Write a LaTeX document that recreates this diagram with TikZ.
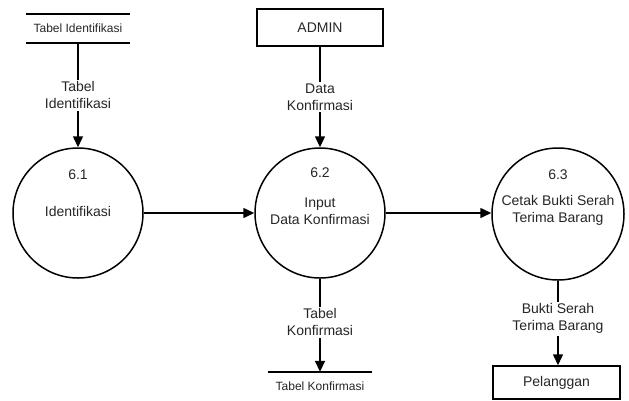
\documentclass[tikz,border=0pt]{standalone}
\usepackage{fontspec}
\setmainfont{Liberation Sans}
\usetikzlibrary{arrows.meta}
\begin{document}
\begin{tikzpicture}[x=1pt,y=-1pt,
  every node/.style={text=black!85},
  txt/.style={font=\fontsize{14}{17}\selectfont, align=center, inner sep=1pt},
  flowlabel/.style={txt, fill=white, inner sep=2pt},
  process/.style={draw, circle, line width=1.5pt, minimum size=130pt, inner sep=0pt},
  entity/.style={draw, line width=1.5pt, rectangle, inner sep=0pt, font=\fontsize{14}{17}\selectfont},
  store/.style={inner sep=0pt, font=\fontsize{12}{14}\selectfont},
  storeline/.style={line width=1.5pt},
  flow/.style={line width=1.5pt, -{Triangle[length=11pt,width=10pt]}}]
\useasboundingbox (0,0) rectangle (629,400);

% external entities
\node[entity, minimum width=126pt, minimum height=37pt] (admin) at (320,27.5) {ADMIN};
\node[entity, minimum width=127pt, minimum height=33pt] (pel) at (556.5,382.5) {Pelanggan};

% data stores
\node[store, minimum width=104pt, minimum height=29pt] (tid) at (78,28.5) {Tabel Identifikasi};
\draw[storeline] (tid.north west) -- (tid.north east);
\draw[storeline] (tid.south west) -- (tid.south east);
\node[store, minimum width=104pt, minimum height=28pt] (tkon) at (320,386) {Tabel Konfirmasi};
\draw[storeline] (tkon.north west) -- (tkon.north east);

% processes
\node[process] (p1) at (78,213) {};
\node[txt] (p1n) at (78,175) {6.1};
\node[txt] (p1t) at (78,211) {Identifikasi};

\node[process] (p2) at (320,213) {};
\node[txt] (p2n) at (320,173) {6.2};
\node[txt] (p2t) at (320,211.5) {Input\\Data Konfirmasi};

\node[process, minimum size=132pt] (p3) at (558,214) {};
\node[txt] (p3n) at (558,175) {6.3};
\node[txt] (p3t) at (558,210.5) {Cetak Bukti Serah\\Terima Barang};

% data flows
\draw[flow] (tid.south) -- node[flowlabel] {Tabel\\Identifikasi} (p1.north);
\draw[flow] (admin.south) -- node[flowlabel] {Data\\Konfirmasi} (p2.north);
\draw[flow] (p1.east) -- (p2.west);
\draw[flow] (p2.east) -- (p3.west |- p2.east);
\draw[flow] (p2.south) -- node[flowlabel, pos=0.47] {Tabel\\Konfirmasi} (tkon.north);
\draw[flow] (p3.south) -- node[flowlabel, pos=0.45] {Bukti Serah\\Terima Barang} (pel.north -| p3.south);
\end{tikzpicture}
\end{document}
